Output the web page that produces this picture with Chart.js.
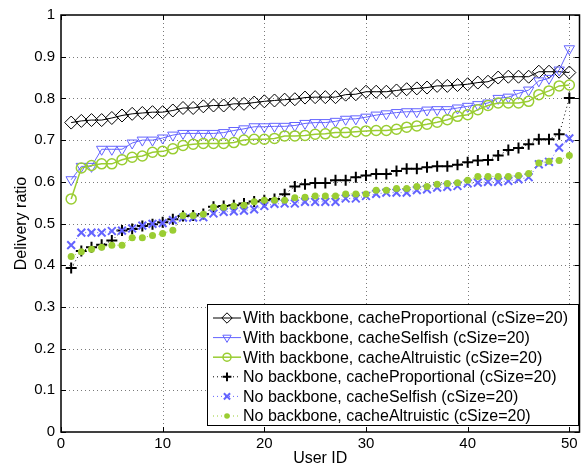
<!DOCTYPE html>
<html><head><meta charset="utf-8">
<script src="https://cdn.jsdelivr.net/npm/chart.js@4/dist/chart.umd.min.js"></script>
<style>html,body{margin:0;padding:0;background:#fff}</style>
</head><body>
<canvas id="c" width="587" height="470" style="width:587px;height:470px;display:block"></canvas>
<script>
const userIds = [1,2,3,4,5,6,7,8,9,10,11,12,13,14,15,16,17,18,19,20,21,22,23,24,25,26,27,28,29,30,31,32,33,34,35,36,37,38,39,40,41,42,43,44,45,46,47,48,49,50];

const withProportional = [0.742,0.746,0.748,0.748,0.753,0.759,0.763,0.765,0.767,0.767,
  0.771,0.777,0.777,0.781,0.783,0.783,0.787,0.787,0.790,0.793,
  0.795,0.797,0.798,0.802,0.803,0.803,0.803,0.809,0.810,0.816,
  0.816,0.816,0.819,0.822,0.824,0.826,0.830,0.830,0.832,0.834,
  0.838,0.840,0.850,0.852,0.852,0.852,0.864,0.864,0.864,0.862];
const withSelfish = [0.605,0.637,0.637,0.678,0.678,0.678,0.693,0.700,0.700,0.705,
  0.712,0.716,0.716,0.716,0.716,0.718,0.723,0.727,0.732,0.732,
  0.733,0.733,0.735,0.740,0.742,0.742,0.745,0.750,0.751,0.755,
  0.760,0.763,0.766,0.768,0.768,0.772,0.773,0.773,0.777,0.781,
  0.785,0.789,0.800,0.803,0.812,0.820,0.842,0.848,0.868,0.919];
const withAltruistic = [0.559,0.633,0.639,0.643,0.643,0.653,0.659,0.662,0.671,0.673,
  0.679,0.687,0.690,0.692,0.692,0.692,0.694,0.700,0.702,0.702,
  0.704,0.710,0.710,0.711,0.714,0.715,0.718,0.718,0.720,0.722,
  0.723,0.723,0.726,0.731,0.734,0.738,0.743,0.749,0.757,0.761,
  0.773,0.783,0.789,0.789,0.789,0.793,0.809,0.818,0.830,0.832];
const noProportional = [0.393,0.434,0.443,0.449,0.459,0.483,0.487,0.494,0.498,0.503,
  0.510,0.518,0.519,0.523,0.540,0.542,0.544,0.548,0.553,0.556,
  0.559,0.570,0.589,0.594,0.597,0.597,0.604,0.604,0.611,0.615,
  0.619,0.619,0.626,0.631,0.631,0.635,0.637,0.637,0.641,0.647,
  0.651,0.652,0.663,0.676,0.681,0.690,0.702,0.702,0.714,0.801];
const noSelfish = [0.448,0.478,0.478,0.478,0.482,0.483,0.488,0.495,0.499,0.501,
  0.508,0.514,0.514,0.515,0.524,0.528,0.529,0.531,0.534,0.542,
  0.547,0.548,0.548,0.552,0.552,0.552,0.552,0.560,0.560,0.566,
  0.571,0.574,0.574,0.574,0.580,0.582,0.586,0.588,0.590,0.596,
  0.598,0.600,0.600,0.602,0.606,0.611,0.642,0.648,0.682,0.704];
const noAltruistic = [0.421,0.432,0.438,0.443,0.448,0.448,0.466,0.466,0.471,0.476,
  0.484,0.519,0.519,0.522,0.539,0.539,0.542,0.544,0.552,0.556,
  0.556,0.556,0.562,0.563,0.566,0.566,0.566,0.571,0.571,0.571,
  0.580,0.580,0.584,0.584,0.589,0.589,0.594,0.596,0.598,0.604,
  0.613,0.613,0.613,0.613,0.615,0.620,0.645,0.649,0.651,0.663];

const seriesLabels = [
  'With backbone, cacheProportional (cSize=20)',
  'With backbone, cacheSelfish (cSize=20)',
  'With backbone, cacheAltruistic (cSize=20)',
  'No backbone, cacheProportional (cSize=20)',
  'No backbone, cacheSelfish (cSize=20)',
  'No backbone, cacheAltruistic (cSize=20)'
];
const seriesValues = [withProportional, withSelfish, withAltruistic, noProportional, noSelfish, noAltruistic];

const xTicks = [0,10,20,30,40,50];
const yTicks = [0,0.1,0.2,0.3,0.4,0.5,0.6,0.7,0.8,0.9,1];
const xTitle = 'User ID';
const yTitle = 'Delivery ratio';

const FONT = '"Liberation Sans", Arial, Helvetica, sans-serif';
const BLUE = '#6464ff';
const GREEN = '#9acd32';
const styles = [
  {color:'#000', ps:'rectRot', r:6.5, rot:0, fill:'rgba(0,0,0,0)', dash:[], lw:1, pw:1},
  {color:BLUE, ps:'triangle', r:6, rot:180, fill:'rgba(0,0,0,0)', dash:[], lw:1, pw:1},
  {color:GREEN, ps:'circle', r:5, rot:0, fill:'rgba(0,0,0,0)', dash:[], lw:1.5, pw:1.5},
  {color:'#000', ps:'cross', r:5.5, rot:0, fill:'#000', dash:[1,3], lw:1, pw:2},
  {color:BLUE, ps:'crossRot', r:5.5, rot:0, fill:BLUE, dash:[1,3], lw:1, pw:2},
  {color:GREEN, ps:'circle', r:3.5, rot:0, fill:GREEN, dash:[1,3], lw:1, pw:0}
];

const datasets = seriesValues.map((vals, i) => ({
  label: seriesLabels[i],
  data: userIds.map((u, j) => ({x: u, y: vals[j]})),
  borderColor: styles[i].color,
  borderWidth: styles[i].lw,
  borderDash: styles[i].dash,
  backgroundColor: styles[i].fill,
  pointStyle: styles[i].ps,
  pointRadius: styles[i].r,
  pointRotation: styles[i].rot,
  pointBorderColor: styles[i].color,
  pointBackgroundColor: styles[i].fill,
  pointBorderWidth: styles[i].pw,
  tension: 0,
  fill: false,
  order: seriesValues.length - i
}));

const framePlugin = {
  id: 'frame',
  beforeDatasetsDraw(chart) {
    const {ctx, chartArea: a, scales: {x, y}} = chart;
    ctx.save();
    ctx.strokeStyle = '#7a7a7a';
    ctx.lineWidth = 1;
    ctx.setLineDash([1, 3]);
    yTicks.forEach(v => {
      if (v <= 0 || v >= 1) return;
      const py = Math.round(y.getPixelForValue(v)) + 0.5;
      ctx.beginPath(); ctx.moveTo(a.left, py); ctx.lineTo(a.right, py); ctx.stroke();
    });
    xTicks.forEach(v => {
      if (v <= 0) return;
      const px = Math.round(x.getPixelForValue(v)) + 0.5;
      ctx.beginPath(); ctx.moveTo(px, a.top); ctx.lineTo(px, a.bottom); ctx.stroke();
    });
    ctx.restore();
  },
  afterDatasetsDraw(chart) {
    const {ctx, chartArea: a, scales: {x, y}} = chart;
    ctx.save();
    ctx.strokeStyle = '#000';
    ctx.lineWidth = 1.5;
    ctx.setLineDash([]);
    ctx.strokeRect(a.left, a.top, a.right - a.left, a.bottom - a.top);
    ctx.lineWidth = 1;
    const tl = 5;
    yTicks.forEach(v => {
      const py = Math.round(y.getPixelForValue(v)) + 0.5;
      ctx.beginPath();
      ctx.moveTo(a.left, py); ctx.lineTo(a.left + tl, py);
      ctx.moveTo(a.right, py); ctx.lineTo(a.right - tl, py);
      ctx.stroke();
    });
    xTicks.forEach(v => {
      const px = Math.round(x.getPixelForValue(v)) + 0.5;
      ctx.beginPath();
      ctx.moveTo(px, a.bottom); ctx.lineTo(px, a.bottom - tl);
      ctx.moveTo(px, a.top); ctx.lineTo(px, a.top + tl);
      ctx.stroke();
    });
    // legend
    const L = 207, T = 304, R = 578, B = 425;
    ctx.fillStyle = '#fff';
    ctx.fillRect(L, T, R - L, B - T);
    ctx.strokeStyle = '#000';
    ctx.lineWidth = 1;
    ctx.strokeRect(L + 0.5, T + 0.5, R - L, B - T);
    ctx.font = '16px ' + FONT;
    ctx.textBaseline = 'middle';
    ctx.textAlign = 'left';
    seriesLabels.forEach((lab, i) => {
      const s = styles[i];
      const cy = 318 + i * 19.6;
      ctx.save();
      ctx.strokeStyle = s.color;
      ctx.lineWidth = s.lw;
      ctx.setLineDash(s.dash);
      ctx.beginPath(); ctx.moveTo(213, cy); ctx.lineTo(241, cy); ctx.stroke();
      ctx.setLineDash([]);
      ctx.fillStyle = s.fill;
      ctx.strokeStyle = s.color;
      ctx.lineWidth = s.pw;
      Chart.helpers.drawPoint(ctx, {pointStyle: s.ps, radius: s.r * 0.8, rotation: s.rot, borderWidth: s.pw}, 227, cy);
      ctx.restore();
      ctx.fillStyle = '#000';
      ctx.fillText(lab, 243, cy + 1);
    });
    ctx.restore();
  }
};

new Chart(document.getElementById('c'), {
  type: 'line',
  data: {datasets},
  options: {
    responsive: false,
    animation: false,
    devicePixelRatio: 1,
    layout: {padding: {top: 9, right: 4, left: 0, bottom: 0}},
    plugins: {legend: {display: false}, tooltip: {enabled: false}},
    scales: {
      x: {
        type: 'linear', min: 0, max: 51,
        grid: {display: false, drawTicks: false},
        border: {display: false},
        afterBuildTicks: s => { s.ticks = xTicks.map(v => ({value: v})); },
        afterFit: s => { s.height = 38; },
        ticks: {color: '#000', font: {family: FONT, size: 15}, padding: 3, maxRotation: 0, autoSkip: false,
          callback: v => String(v)},
        title: {display: true, text: xTitle, color: '#000', font: {family: FONT, size: 16}, padding: {top: 0, bottom: 2}}
      },
      y: {
        type: 'linear', min: 0, max: 1,
        grid: {display: false, drawTicks: false},
        border: {display: false},
        afterBuildTicks: s => { s.ticks = yTicks.map(v => ({value: v})); },
        afterFit: s => { s.width = 61; },
        ticks: {color: '#000', font: {family: FONT, size: 15}, padding: 6, autoSkip: false,
          callback: v => String(v)},
        title: {display: true, text: yTitle, color: '#000', font: {family: FONT, size: 16}, padding: {top: 12, bottom: 0}}
      }
    }
  },
  plugins: [framePlugin]
});
</script>
</body></html>
